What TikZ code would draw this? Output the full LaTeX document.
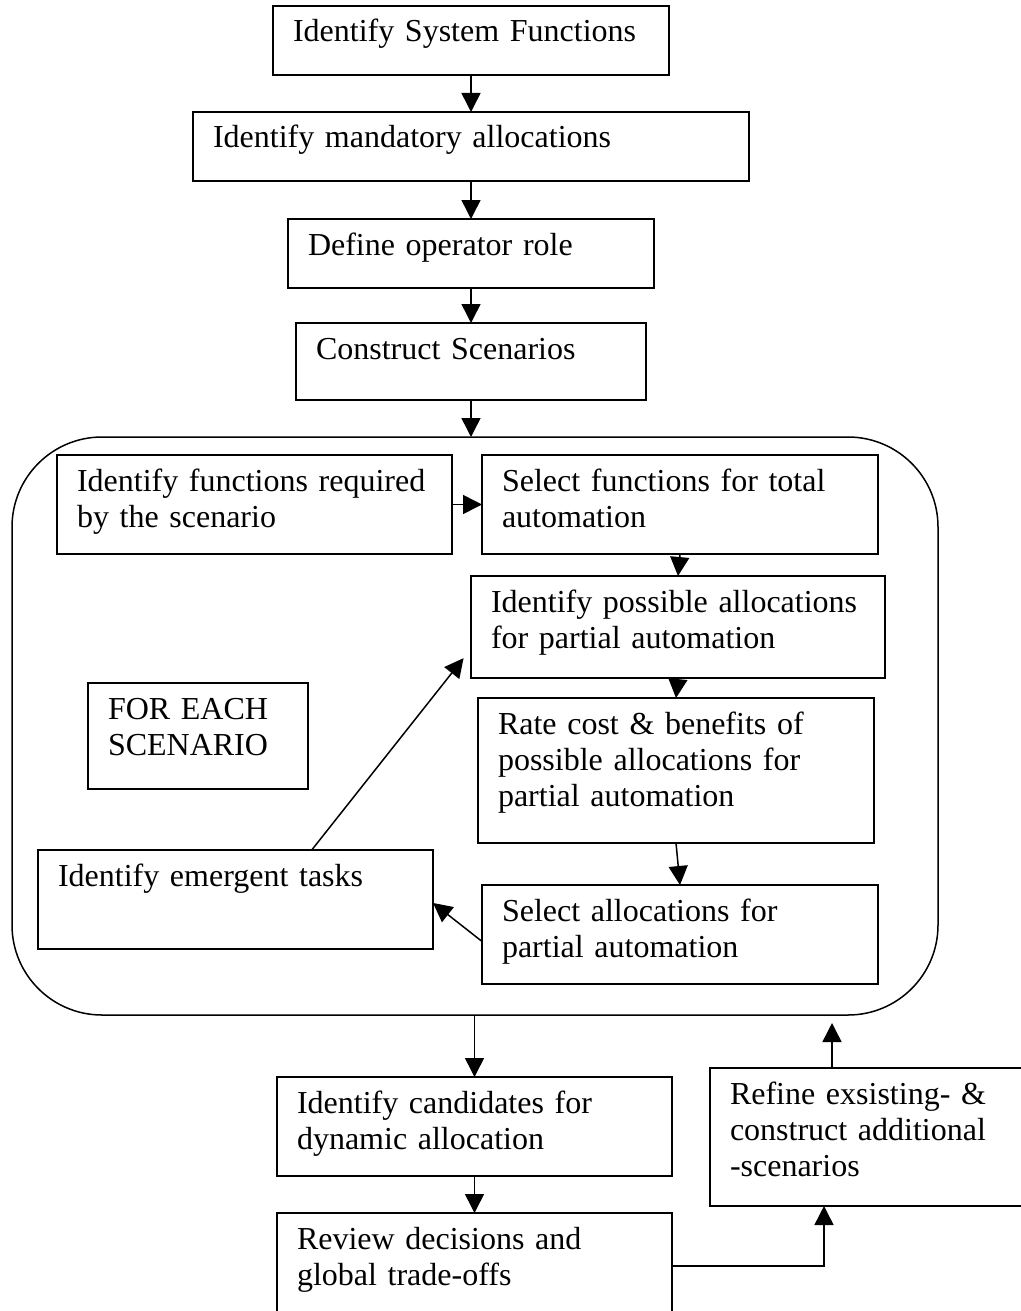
\documentclass[tikz,border=0pt]{standalone}
\usepackage{fontspec}
\setmainfont{Liberation Serif}
\usetikzlibrary{arrows.meta}

\begin{document}
\begin{tikzpicture}[
  x=0.5pt, y=-0.5pt,
  stage/.style={draw, line width=0.75pt, anchor=north west, align=left, outer sep=0pt,
    inner xsep=10pt, inner ysep=0pt, text height=18pt,
    font=\fontsize{16pt}{18pt}\selectfont},
  flow/.style={-{Triangle[length=9.5pt,width=9.5pt]}, line width=0.75pt}
]
  \useasboundingbox (0,0) rectangle (1021,1311);
  \clip (0,0) rectangle (1021,1311);

  % main chain
  \node[stage, text width=178pt, text depth=16.5pt] (sysfun) at (273,6)   {Identify System Functions};
  \node[stage, text width=258pt, text depth=16.5pt] (mandat) at (193,112) {Identify mandatory allocations};
  \node[stage, text width=163pt, text depth=16.5pt] (oprole) at (288,219) {Define operator role};
  \node[stage, text width=155pt, text depth=20.5pt] (scen)   at (296,323) {Construct Scenarios};

  % per-scenario loop
  \node[draw, line width=0.75pt, rounded corners=45pt, anchor=north west, outer sep=0pt, inner sep=0pt,
    minimum width=463pt, minimum height=289pt] (loop) at (12,437) {};
  \node[stage, text width=177.5pt, text depth=31.5pt] (fnreq)    at (57,455)  {Identify functions required\\by the scenario};
  \node[stage, text width=178pt,   text depth=31.5pt] (fntot)    at (482,455) {Select functions for total\\automation};
  \node[stage, text width=187pt,   text depth=33pt]   (partial)  at (471,576) {Identify possible allocations\\for partial automation};
  \node[stage, text width=90pt,    text depth=35pt]   (each)     at (88,683)  {FOR EACH\\SCENARIO};
  \node[stage, text width=178pt,   text depth=54.5pt] (rate)     at (478,698) {Rate cost \& benefits of\\possible allocations for\\partial automation};
  \node[stage, text width=177.5pt, text depth=31.5pt] (emerg)    at (38,850)  {Identify emergent tasks};
  \node[stage, text width=178pt,   text depth=31.5pt] (selalloc) at (482,885) {Select allocations for\\partial automation};

  % after the loop
  \node[stage, text width=177.5pt, text depth=31.5pt] (cand)   at (277,1077) {Identify candidates for\\dynamic allocation};
  \node[stage, text width=145pt,   text depth=51pt]   (refine) at (710,1068) {Refine exsisting- \&\\construct additional\\-scenarios};
  \node[stage, text width=177.5pt, text depth=35pt]   (review) at (277,1213) {Review decisions and\\global trade-offs};
  \coordinate (turn) at ([xshift=57pt]refine.south west);
  \coordinate (back) at ([xshift=61pt]refine.north west);

  \draw[flow] (sysfun.south) -- (mandat.north);
  \draw[flow] (mandat.south) -- (oprole.north);
  \draw[flow] (oprole.south) -- (scen.north);
  \draw[flow] (scen.south) -- (scen.south |- loop.north);
  \draw[flow] (fnreq.east) -- (fntot.west);
  \draw[flow] (fntot.south) -- (partial.north);
  \draw[flow] (partial.south) -- (rate.north);
  \draw[flow] (rate.south) -- (selalloc.north);
  \draw[flow] (selalloc.182) -- (emerg.-1);
  \draw[flow, shorten >=6pt] (emerg.33) -- (partial.186);
  \draw[flow] (loop.south -| cand.north) -- (cand.north);
  \draw[flow] (cand.south) -- (review.north);
  \draw[flow] (review.east) -| (turn);
  \draw[flow, shorten >=4pt] (back) -- (back |- loop.south);
\end{tikzpicture}
\end{document}
